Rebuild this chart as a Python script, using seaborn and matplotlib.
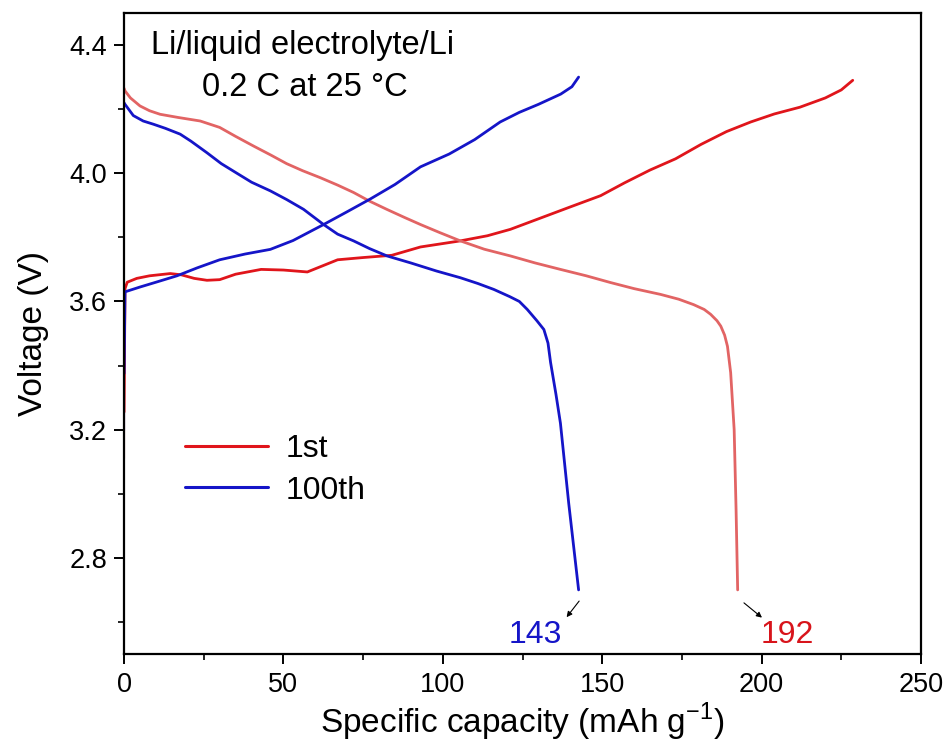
import matplotlib
matplotlib.use("Agg")
import matplotlib.pyplot as plt
import seaborn as sns

# ---- data ----
# 1st cycle, charge
c1_cap = [0.0, 0.0, 0.3, 1.0, 4.0, 8.0, 14.5, 18.0, 22.0, 26.0, 30.0, 35.0, 43.0, 50.0, 57.5,
          62.0, 67.0, 75.0, 84.0, 93.0, 105.5, 114.0, 121.2, 130.6, 140.0, 149.5, 157.0, 165.0,
          173.0, 181.0, 189.0, 196.6, 204.0, 212.0, 220.0, 225.0, 228.6]
c1_v = [3.11, 3.40, 3.64, 3.66, 3.672, 3.68, 3.687, 3.683, 3.672, 3.666, 3.668, 3.685, 3.70, 3.698,
        3.692, 3.71, 3.73, 3.737, 3.744, 3.77, 3.789, 3.805, 3.825, 3.86, 3.895, 3.93, 3.97, 4.01,
        4.045, 4.09, 4.13, 4.16, 4.185, 4.206, 4.235, 4.26, 4.29]
# 1st cycle, discharge
d1_cap = [0.0, 0.3, 2.0, 5.0, 8.0, 11.3, 17.0, 23.9, 30.0, 35.0, 40.6, 46.0, 51.0, 56.0, 61.6,
          67.0, 72.0, 77.0, 82.5, 88.0, 93.0, 99.0, 105.5, 113.0, 121.2, 129.0, 136.9, 145.0,
          152.6, 160.0, 168.3, 174.0, 178.7, 182.0, 184.0, 186.0, 187.2, 188.4, 189.3, 190.3,
          191.4, 192.0, 192.5]
d1_v = [4.265, 4.257, 4.235, 4.21, 4.195, 4.184, 4.174, 4.163, 4.143, 4.115, 4.085, 4.057, 4.03,
        4.008, 3.986, 3.963, 3.94, 3.913, 3.887, 3.862, 3.84, 3.815, 3.789, 3.763, 3.742, 3.72,
        3.70, 3.68, 3.659, 3.64, 3.622, 3.607, 3.59, 3.575, 3.56, 3.54, 3.523, 3.495, 3.46, 3.378,
        3.20, 2.95, 2.70]
# 100th cycle, charge
c100_cap = [0.0, 0.0, 0.3, 5.0, 10.0, 16.6, 23.0, 30.0, 38.0, 45.9, 53.0, 62.6, 70.0, 77.3,
            85.0, 93.0, 102.0, 110.0, 118.0, 124.0, 130.0, 137.0, 140.5, 142.6]
c100_v = [3.20, 3.55, 3.63, 3.645, 3.66, 3.68, 3.705, 3.73, 3.748, 3.7625, 3.79, 3.84, 3.88, 3.92,
          3.965, 4.02, 4.06, 4.105, 4.16, 4.19, 4.215, 4.247, 4.27, 4.30]
# 100th cycle, discharge
d100_cap = [0.0, 0.3, 2.9, 6.0, 9.2, 13.0, 17.6, 21.0, 26.0, 30.5, 35.4, 40.0, 45.9, 51.0, 56.3,
            62.6, 67.0, 72.0, 77.0, 82.5, 90.0, 98.0, 105.5, 111.0, 116.0, 121.0, 124.0, 126.5,
            129.5, 131.7, 133.0, 133.8, 135.5, 136.9, 139.5, 142.6]
d100_v = [4.22, 4.215, 4.18, 4.163, 4.153, 4.14, 4.122, 4.10, 4.064, 4.03, 4.00, 3.972, 3.945,
          3.918, 3.8875, 3.84, 3.81, 3.789, 3.765, 3.742, 3.72, 3.695, 3.674, 3.656, 3.6375, 3.615,
          3.60, 3.575, 3.54, 3.5125, 3.47, 3.41, 3.31, 3.22, 2.97, 2.70]

legend_labels = ["1st", "100th"]
final_caps = ["143", "192"]
title_lines = ["Li/liquid electrolyte/Li", "0.2 C at 25 \u00b0C"]

sns.set_style("ticks")
plt.rcParams["font.family"] = ["Liberation Sans", "DejaVu Sans"]
plt.rcParams["text.color"] = "black"
plt.rcParams["axes.labelcolor"] = "black"

fig = plt.figure(figsize=(9.47, 7.47), dpi=100)
ax = fig.add_axes([0.131, 0.1245, 0.8415, 0.8581])

RED = "#e0151b"
RED_L = "#e26464"
BLUE = "#1515c8"
lw = 2.0

sns.lineplot(x=c1_cap, y=c1_v, sort=False, color=RED, lw=lw, ax=ax, label=legend_labels[0])
sns.lineplot(x=d1_cap, y=d1_v, sort=False, color=RED_L, lw=lw, ax=ax)
sns.lineplot(x=c100_cap, y=c100_v, sort=False, color=BLUE, lw=lw, ax=ax, label=legend_labels[1])
sns.lineplot(x=d100_cap, y=d100_v, sort=False, color=BLUE, lw=lw, ax=ax)

ax.set_xlim(0, 250)
ax.set_ylim(2.5, 4.5)
ax.set_xticks([0, 50, 100, 150, 200, 250])
ax.set_xticks([25, 75, 125, 175, 225], minor=True)
ax.set_yticks([2.8, 3.2, 3.6, 4.0, 4.4])
ax.set_yticks([2.6, 3.0, 3.4, 3.8, 4.2], minor=True)
ax.set_yticklabels(["2.8", "3.2", "3.6", "4.0", "4.4"])

for s in ax.spines.values():
    s.set_linewidth(1.6)
    s.set_color("black")
    s.set_visible(True)
ax.tick_params(axis="both", which="major", length=7, width=1.4, labelsize=19.5, pad=5,
               direction="out", colors="black")
ax.tick_params(axis="both", which="minor", length=4.5, width=1.2, direction="out", colors="black")
ax.tick_params(axis="x", which="major", pad=6)

ax.set_xlabel("Specific capacity (mAh g$^{\\mathregular{-1}}$)", fontsize=24, labelpad=2, color="black")
ax.set_ylabel("Voltage (V)", fontsize=24, labelpad=15, color="black")

ax.text(0.2246, 0.950, title_lines[0], transform=ax.transAxes, ha="center", va="center",
        fontsize=23.5, color="black")
ax.text(0.2270, 0.883, title_lines[1], transform=ax.transAxes, ha="center", va="center",
        fontsize=23.5, color="black")

leg = ax.legend(loc="center left", bbox_to_anchor=(0.0765, 0.287), frameon=False, fontsize=23,
                handlelength=2.6, handletextpad=0.55, borderpad=0, borderaxespad=0, labelspacing=0.35)
for h in leg.get_lines():
    h.set_linewidth(2.2)
for t in leg.get_texts():
    t.set_color("black")

# end-capacity annotations
ax.annotate(final_caps[0], xy=(138.5, 2.61), xytext=(129.0, 2.56), color=BLUE, fontsize=23,
            ha="center", va="center")
ax.annotate("", xy=(138.3, 2.608), xytext=(143.3, 2.672),
            arrowprops=dict(arrowstyle="-|>", color="black", lw=0.8, mutation_scale=8))
ax.annotate(final_caps[1], xy=(200.4, 2.61), xytext=(208.2, 2.56), color="#d8141b", fontsize=23,
            ha="center", va="center")
ax.annotate("", xy=(200.8, 2.608), xytext=(193.8, 2.665),
            arrowprops=dict(arrowstyle="-|>", color="black", lw=0.8, mutation_scale=8))

fig.savefig("out.png", dpi=100)
